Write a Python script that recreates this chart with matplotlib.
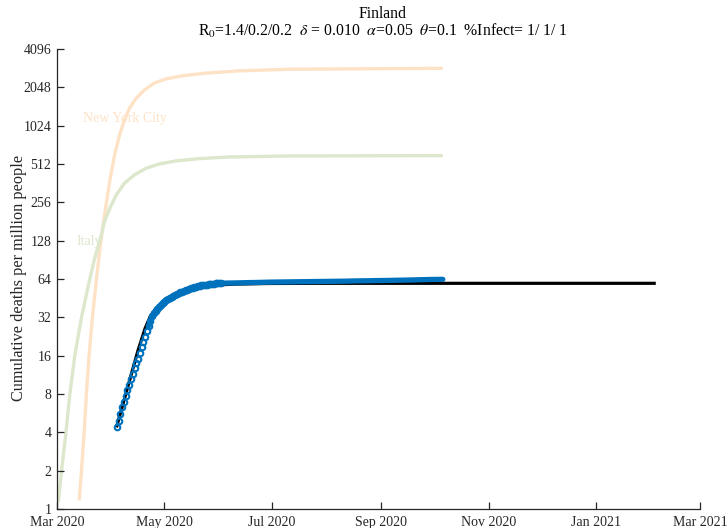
import matplotlib
matplotlib.use("Agg")
import matplotlib.pyplot as plt
import matplotlib.dates as mdates
from matplotlib.ticker import FixedLocator, FixedFormatter, NullLocator
import datetime as dt

# ---------------- data ----------------
start = dt.date(2020, 3, 1)

# Finland observed cumulative deaths per million (day offset from 2020-03-01)
fin_day = [34, 35, 36, 37, 38, 39, 40, 41, 42, 43, 44, 45, 46, 47, 48, 49, 50, 51, 52, 53,
           54, 55, 56, 57, 58, 59, 60, 61, 62, 63, 64, 65, 66, 67, 68, 69, 70, 71, 72, 73,
           74, 75, 76, 77, 78, 79, 80, 81, 82, 83, 84, 85, 86, 87, 88, 89, 90, 91, 92, 93,
           97, 101, 105, 109, 113, 117, 121, 125, 129, 133, 137, 141, 145, 149, 153, 157,
           161, 165, 169, 173, 177, 181, 185, 189, 193, 197, 201, 205, 209, 213, 219]
fin_val = [4.38, 4.92, 5.54, 6.28, 6.96, 7.73, 8.57, 9.45, 10.4, 11.5, 12.7, 13.9, 15.2, 16.9,
           18.6, 20.5, 22.6, 24.9, 27.3, 29.9,
           32.6, 34.5, 36.0, 37.4, 38.9, 40.2, 41.4, 42.4, 43.4, 44.4, 45.4, 46.3, 47.1, 47.9,
           48.7, 49.4, 50.2, 50.9, 51.6, 52.3, 52.9, 53.5, 54.1, 54.7, 55.2, 55.7, 56.2, 56.6,
           57.0, 57.3, 57.6, 57.9, 58.2, 58.4, 58.6, 58.8, 59.0, 59.1, 59.2, 59.3,
           59.5, 59.6, 59.8, 60.0, 60.1, 60.3, 60.5, 60.6, 60.7, 60.8, 60.9, 61.0, 61.1, 61.2,
           61.3, 61.4, 61.5, 61.6, 61.8, 61.9, 62.0, 62.2, 62.3, 62.4, 62.6, 62.7, 62.9, 63.1,
           63.3, 63.5, 63.6]

# Model fit for Finland
model_day = [34, 38, 42, 46, 50, 53, 56, 60, 65, 70, 75, 80, 90, 100, 120, 150, 200, 250, 339]
model_val = [4.5, 7.1, 11.2, 17.6, 26.2, 32.6, 37.3, 41.5, 46.0, 50.0, 53.0, 55.0, 57.3, 58.3,
             59.0, 59.2, 59.2, 59.2, 59.2]

# Reference curves
nyc_day = [12.6, 13.9, 15.4, 16.7, 18.2, 20.1, 22.4, 24.7, 27.0, 29.9, 32.7, 35.5, 38.3, 41.1,
           44.9, 49.6, 55.2, 61.8, 71.2, 84.3, 103.1, 131.3, 219]
nyc_val = [1.17, 2, 4, 8, 16, 32, 64, 120, 204, 372, 604, 866, 1136, 1401,
           1678, 1952, 2210, 2384, 2525, 2645, 2757, 2840, 2890]

ita_day = [0.7, 2.6, 5.1, 7.3, 10.1, 13.9, 18.6, 21.3, 24.2, 27.0, 29.9, 33.6, 38.3, 43.9,
           50.5, 58.0, 67.4, 80.6, 97.5, 131.3, 219]
ita_val = [1.13, 2, 4, 8, 16, 32, 64, 92, 127, 181, 229, 292, 362, 420,
           474, 512, 541, 564, 581, 592, 596]

ytick_vals = [1, 2, 4, 8, 16, 32, 64, 128, 256, 512, 1024, 2048, 4096]
xtick_dates = [dt.date(2020, 3, 1), dt.date(2020, 5, 1), dt.date(2020, 7, 1), dt.date(2020, 9, 1),
               dt.date(2020, 11, 1), dt.date(2021, 1, 1), dt.date(2021, 3, 1)]

title_line1 = "Finland"
title_line2 = r"R$_0$=1.4/0.2/0.2  $\delta$ = 0.010  $\alpha$=0.05  $\theta$=0.1  %Infect= 1/ 1/ 1"

# ---------------- style ----------------
plt.rcParams['font.family'] = ['Liberation Serif', 'DejaVu Serif']
plt.rcParams['mathtext.fontset'] = 'stix'

def to_dates(days):
    return [dt.datetime(start.year, start.month, start.day) + dt.timedelta(days=float(d)) for d in days]

W, H = 727, 528
fig = plt.figure(figsize=(W / 100, H / 100), dpi=100)
ax = fig.add_axes([57 / W, (H - 509) / H, 643 / W, 460 / H])

c_nyc = '#fde2c6'
c_ita = '#dce7cb'
c_fin = '#0072bd'
axis_c = '#262626'

fin_dates = to_dates(fin_day)
ax.plot(to_dates(nyc_day), nyc_val, color=c_nyc, lw=2.4, solid_capstyle='butt', zorder=1)
ax.plot(to_dates(ita_day), ita_val, color=c_ita, lw=2.4, solid_capstyle='butt', zorder=1)
ax.plot(to_dates(model_day), model_val, color='black', lw=2.3, zorder=2)
# solid band where the daily markers merge (from the bend onward)
ax.plot(fin_dates[18:], fin_val[18:], color=c_fin, lw=3.8, solid_capstyle='round', zorder=3)
# open circle markers for the daily observations
ax.plot(fin_dates, fin_val, linestyle='none', marker='o', ms=4.0, mfc='none',
        mec=c_fin, mew=1.5, markevery=slice(0, 60), zorder=4)

ax.text(to_dates([14.8])[0], 1176, "New York City", color=c_nyc, fontsize=10,
        va='center', ha='left')
ax.text(to_dates([10.9])[0], 127, "Italy", color=c_ita, fontsize=10, va='center', ha='left')

ax.set_yscale('log', base=2)
ax.set_ylim(1, 4096)
ax.yaxis.set_major_locator(FixedLocator(ytick_vals))
ax.yaxis.set_major_formatter(FixedFormatter([str(v) for v in ytick_vals]))
ax.yaxis.set_minor_locator(NullLocator())

xd = [mdates.date2num(d) for d in xtick_dates]
ax.set_xlim(xd[0], xd[-1])
ax.xaxis.set_major_locator(FixedLocator(xd))
ax.xaxis.set_major_formatter(FixedFormatter([d.strftime('%b %Y') for d in xtick_dates]))
ax.xaxis.set_minor_locator(NullLocator())

for s in ['top', 'right']:
    ax.spines[s].set_visible(False)
for s in ['left', 'bottom']:
    ax.spines[s].set_color(axis_c)
    ax.spines[s].set_linewidth(0.9)

ax.tick_params(axis='both', direction='in', length=5, width=0.9, color=axis_c,
               labelcolor=axis_c, labelsize=10)
ax.tick_params(axis='y', pad=4)
ax.tick_params(axis='x', pad=5)

ax.set_ylabel("Cumulative deaths per million people", fontsize=11.7, color=axis_c)
ax.yaxis.set_label_coords(-0.0474, 0.503)

cx = 383 / W
fig.text(cx, 1 - 17.5 / H, title_line1, fontsize=11.3, ha='center', va='baseline', color='black')
fig.text(cx, 1 - 35.5 / H, title_line2, fontsize=11.3, ha='center', va='baseline', color='black')

fig.savefig("out.png", dpi=100)
